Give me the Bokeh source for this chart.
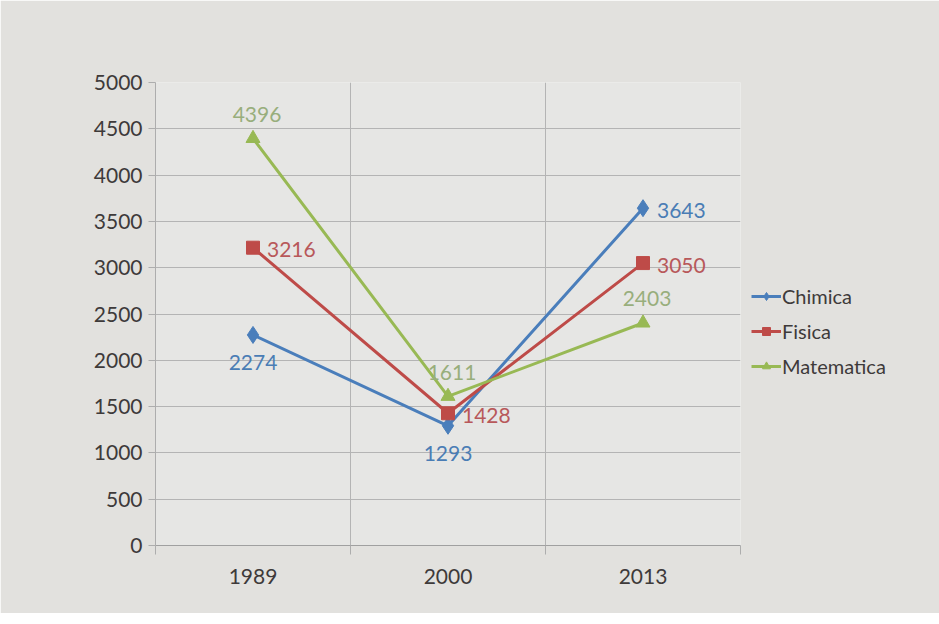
from bokeh.plotting import figure
from bokeh.models import FixedTicker, Legend, LegendItem, ColumnDataSource, Range1d
from bokeh.core.properties import value
from bokeh.embed import file_html
from bokeh.resources import INLINE

years = ["1989", "2000", "2013"]
chimica = [2274, 1293, 3643]
fisica = [3216, 1428, 3050]
matematica = [4396, 1611, 2403]
y_ticks = [0, 500, 1000, 1500, 2000, 2500, 3000, 3500, 4000, 4500, 5000]

FONT = "Lato"
BG = "#e2e1de"

p = figure(frame_width=585, frame_height=463, output_backend="svg", toolbar_location=None,
           x_range=Range1d(0, len(years)), y_range=Range1d(0, 5000),
           min_border_left=155, min_border_right=10, min_border_top=82, min_border_bottom=68)
p.background_fill_color = "#e6e6e4"
p.border_fill_color = BG
p.outline_line_color = None

# axes
p.xaxis.ticker = FixedTicker(ticks=[i + 0.5 for i in range(len(years))],
                             minor_ticks=list(range(len(years) + 1)))
p.xaxis.major_label_overrides = {i + 0.5: y for i, y in enumerate(years)}
p.xaxis.major_tick_out = 0
p.xaxis.major_tick_in = 0
p.xaxis.minor_tick_out = 9
p.xaxis.minor_tick_in = 0
p.xaxis.minor_tick_line_color = "#adadad"
p.xaxis.axis_line_color = "#a0a0a0"
p.xaxis.major_label_standoff = 14

p.yaxis.ticker = FixedTicker(ticks=y_ticks)
p.yaxis.major_tick_out = 7
p.yaxis.major_tick_in = 0
p.yaxis.minor_tick_line_color = None
p.yaxis.major_tick_line_color = "#adadad"
p.yaxis.axis_line_color = "#adadad"
p.yaxis.major_label_standoff = 6

for ax in (p.xaxis, p.yaxis):
    ax.major_label_text_font = FONT
    ax.major_label_text_font_size = "21px"
    ax.major_label_text_color = "#3e3a3a"

p.xgrid.ticker = FixedTicker(ticks=list(range(len(years) + 1)))
p.xgrid.grid_line_color = "#b4b4b4"
p.ygrid.ticker = FixedTicker(ticks=y_ticks)
p.ygrid.grid_line_color = "#b4b4b4"

xs = [i + 0.5 for i in range(len(years))]

series = [
    ("Chimica", chimica, "#4a7ebb", "#4a7db5", "diamond", 17, ["below", "below", "right"]),
    ("Fisica", fisica, "#be4b48", "#b8585a", "square", 13, ["right", "right", "right"]),
    ("Matematica", matematica, "#98b954", "#98ae7c", "triangle", 14, ["above", "above", "above"]),
]
offsets = {"below": (0, 28, "center", "middle"), "right": (14, 2, "left", "middle"),
           "above": (4, -24, "center", "middle")}

items = []
for name, vals, color, tcolor, marker, size, places in series:
    src = ColumnDataSource(dict(x=xs, y=vals))
    ln = p.line("x", "y", source=src, line_color=color, line_width=3)
    mk = p.scatter("x", "y", source=src, marker=marker, size=size, fill_color=color,
                   line_color=color)
    items.append(LegendItem(label=name, renderers=[ln, mk]))
    for x, v, pl in zip(xs, vals, places):
        dx, dy, al, bl = offsets[pl]
        p.text(x=[x], y=[v], text=[str(v)], x_offset=dx, y_offset=dy, text_align=al,
               text_baseline=bl, text_color=tcolor, text_font=value(FONT),
               text_font_size="21px")

legend = Legend(items=items, location=(11, 167), orientation="vertical")
legend.background_fill_alpha = 0
legend.border_line_color = None
legend.label_text_font = FONT
legend.label_text_font_size = "20px"
legend.label_text_color = "#3e3a3a"
legend.glyph_width = 30
legend.label_standoff = 1
legend.spacing = 11
p.add_layout(legend, "right")

open("out.html", "w").write(file_html(p, INLINE))
